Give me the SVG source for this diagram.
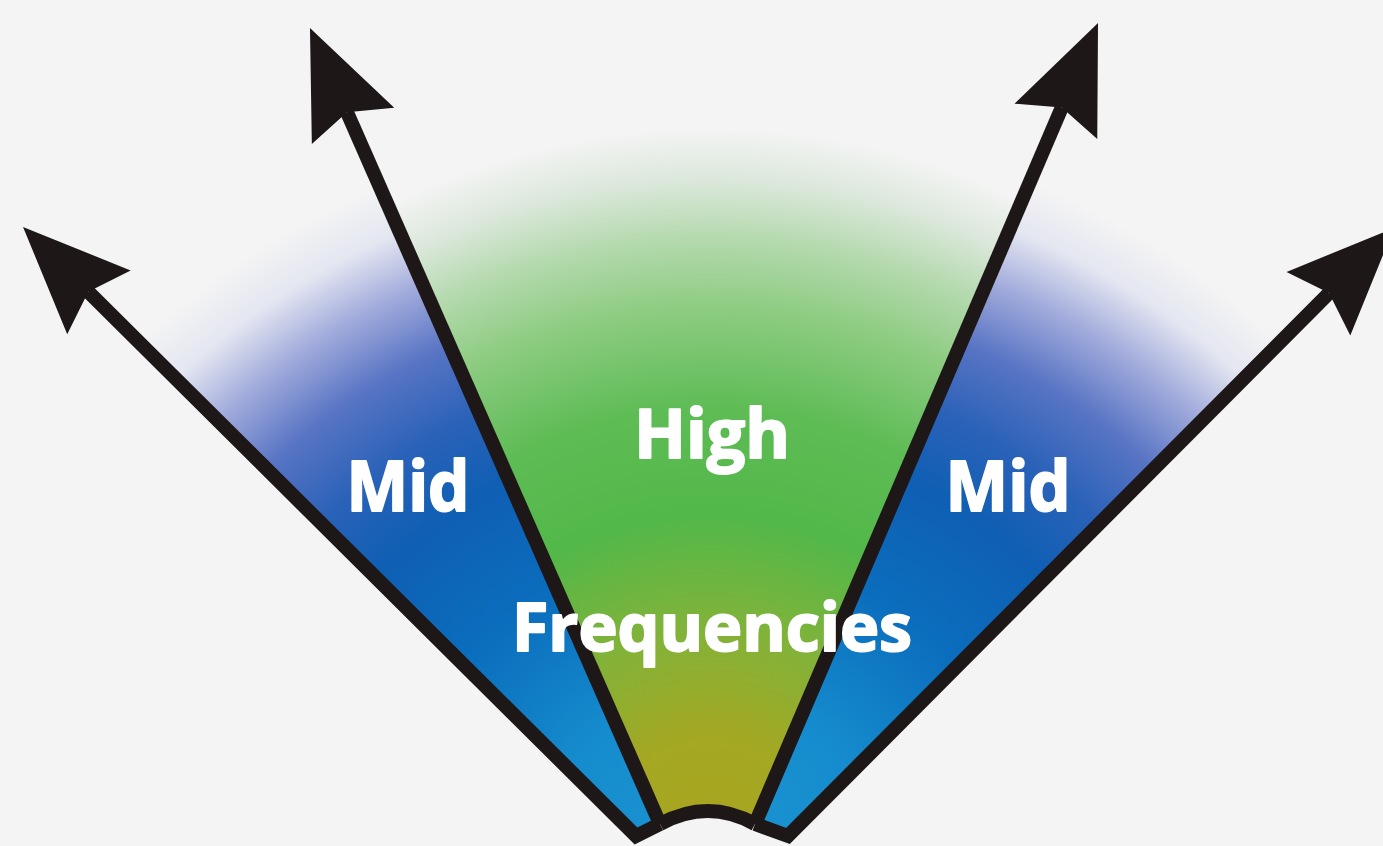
<svg xmlns="http://www.w3.org/2000/svg" width="1383" height="846" viewBox="0 0 1383 846">
  <style>
    .ln { fill: none; stroke: #1e1718; stroke-width: 14; stroke-linejoin: miter; }
    .lbl { font-family: "Open Sans", "Noto Sans", "Liberation Sans", sans-serif; font-weight: 700; fill: #ffffff; stroke: #ffffff; stroke-width: 2; stroke-linejoin: round; text-anchor: middle; }
  </style>
  <defs>
    <marker id="ah" markerUnits="userSpaceOnUse" orient="auto" markerWidth="220" markerHeight="220" refX="0" refY="0" overflow="visible">
      <path d="M92,0 L-15,-45 L0,0 L-15,45 Z" fill="#1e1718"/>
    </marker>
    <radialGradient id="gBlue" gradientUnits="userSpaceOnUse" cx="710" cy="840" r="720" fx="710" fy="840" gradientTransform="translate(710 840) scale(1.1 1) translate(-710 -840)">
      <stop offset="0" stop-color="#1c95d2"/>
      <stop offset="0.2" stop-color="#158ccd"/>
      <stop offset="0.4" stop-color="#0b6dbd"/>
      <stop offset="0.56" stop-color="#0f5fb4"/>
      <stop offset="0.66" stop-color="#2a62b8"/>
      <stop offset="0.76" stop-color="#5874c4"/>
      <stop offset="0.85" stop-color="#a0aadb"/>
      <stop offset="0.93" stop-color="#e4e6f1"/>
      <stop offset="1" stop-color="#f4f4f4"/>
    </radialGradient>
    <radialGradient id="gGreen" gradientUnits="userSpaceOnUse" cx="710" cy="840" r="720" fx="710" fy="840">
      <stop offset="0" stop-color="#aaa41e"/>
      <stop offset="0.15" stop-color="#a3a823"/>
      <stop offset="0.3" stop-color="#80b33a"/>
      <stop offset="0.45" stop-color="#52b849"/>
      <stop offset="0.6" stop-color="#5ebc55"/>
      <stop offset="0.74" stop-color="#8ecc82"/>
      <stop offset="0.84" stop-color="#b6dab0"/>
      <stop offset="0.92" stop-color="#dde8dd"/>
      <stop offset="0.99" stop-color="#f4f4f4"/>
    </radialGradient>
  </defs>

  <rect id="background" x="0" y="0" width="1383" height="846" fill="#f4f4f4"/>

  <g id="wedge-mid-left">
    <path d="M636,836 L660,824 L338,92 L68,272 Z" fill="url(#gBlue)"/>
  </g>
  <g id="wedge-high">
    <path d="M660,824 Q708,798 755,824 L1070,89 L338,92 Z" fill="url(#gGreen)"/>
  </g>
  <g id="wedge-mid-right">
    <path d="M755,824 L788,836 L1353,270 L1070,89 Z" fill="url(#gBlue)"/>
  </g>

  <g id="connectors">
    <path class="ln" d="M660,824 Q708,798 755,824"/>
    <path class="ln" d="M660,824 L636,836 L88.3,291.8" marker-end="url(#ah)"/>
    <path class="ln" d="M660,824 L347,112.2" marker-end="url(#ah)"/>
    <path class="ln" d="M755,824 L1061.8,107.6" marker-end="url(#ah)"/>
    <path class="ln" d="M755,824 L788,836 L1329,293.1" marker-end="url(#ah)"/>
  </g>

  <g id="label-mid-left">
    <text class="lbl" x="408" y="511" font-size="70" textLength="123" lengthAdjust="spacingAndGlyphs">Mid</text>
  </g>
  <g id="label-high">
    <text class="lbl" x="712" y="458" font-size="68" textLength="156" lengthAdjust="spacingAndGlyphs">High</text>
  </g>
  <g id="label-mid-right">
    <text class="lbl" x="1008" y="511" font-size="70" textLength="125" lengthAdjust="spacingAndGlyphs">Mid</text>
  </g>
  <g id="label-frequencies">
    <text class="lbl" x="712" y="651" font-size="66" textLength="400" lengthAdjust="spacingAndGlyphs">Frequencies</text>
  </g>
</svg>
